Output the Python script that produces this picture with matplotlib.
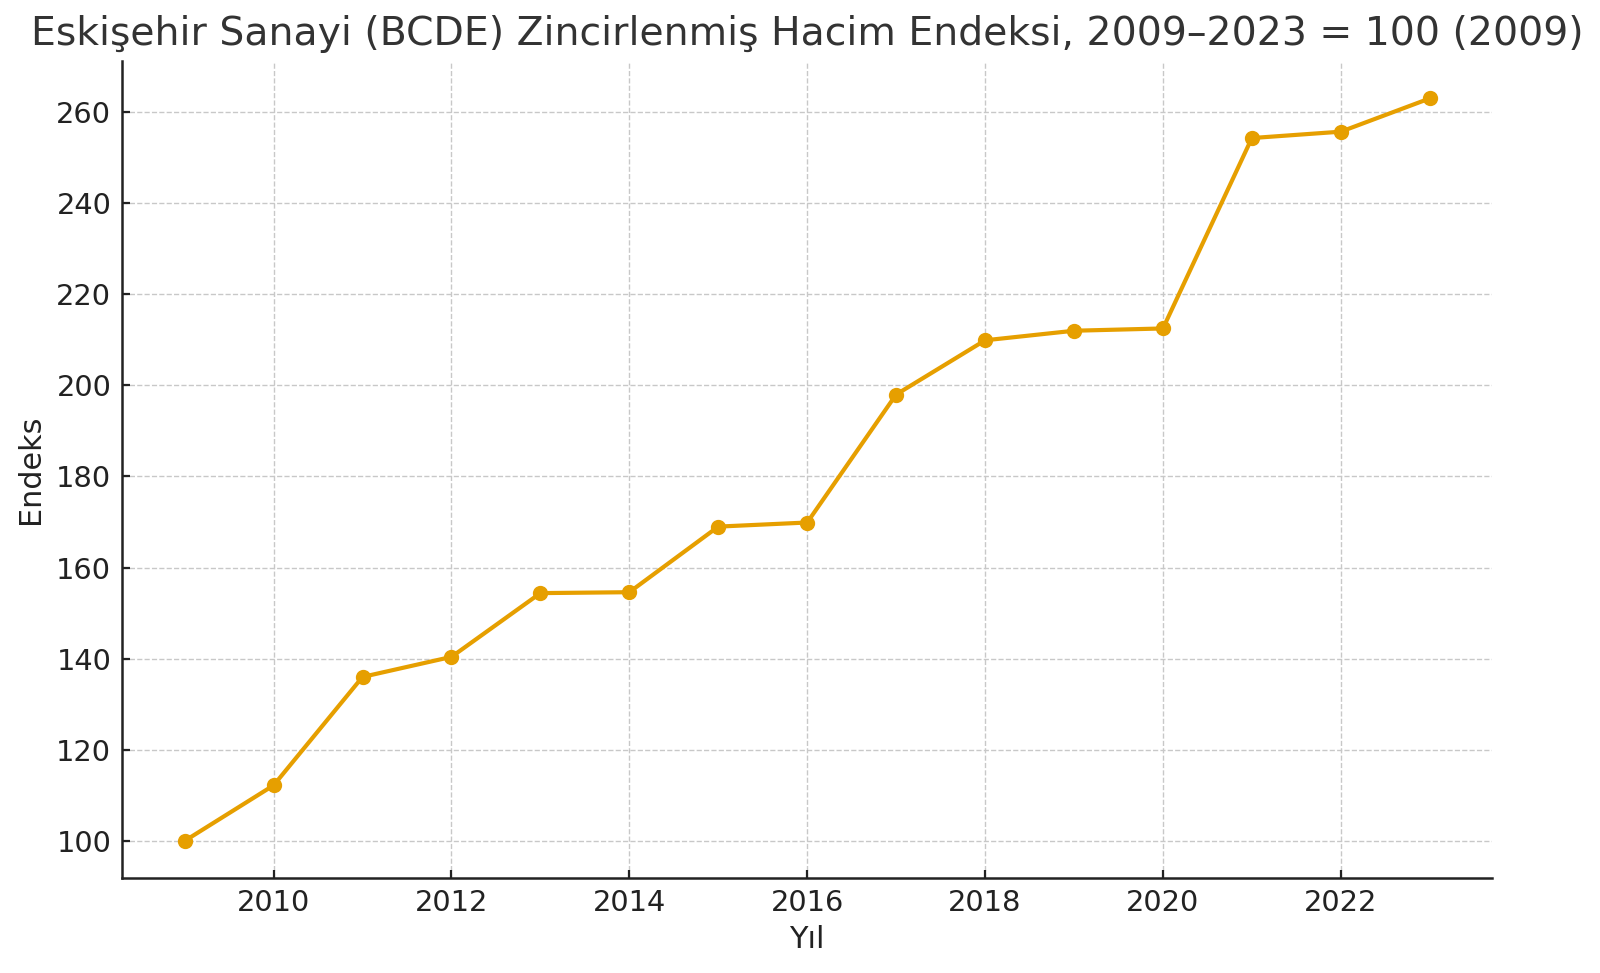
import matplotlib
matplotlib.use("Agg")
import matplotlib.pyplot as plt

years = [2009, 2010, 2011, 2012, 2013, 2014, 2015, 2016, 2017, 2018, 2019, 2020, 2021, 2022, 2023]
index_values = [100.0, 112.2, 136.0, 140.4, 154.4, 154.6, 169.0, 169.9, 198.0, 209.9, 212.0, 212.5, 254.3, 255.7, 263.0]
y_ticks = [100, 120, 140, 160, 180, 200, 220, 240, 260]
x_ticks = [2010, 2012, 2014, 2016, 2018, 2020, 2022]

plt.rcParams['font.family'] = ['DejaVu Sans']

fig, ax = plt.subplots(figsize=(8, 4.865), dpi=200)
fig.subplots_adjust(left=0.0765, right=0.9325, top=0.937, bottom=0.0976)

ax.plot(years, index_values, color="#E69F00", linewidth=1.5, marker="o", markersize=4.5)

ax.set_xticks(x_ticks)
ax.set_yticks(y_ticks)
ax.grid(True, linestyle="--", linewidth=0.5, color="#c8c8c8")
ax.set_axisbelow(True)
for side in ["top", "right"]:
    ax.spines[side].set_visible(False)
for side in ["left", "bottom"]:
    ax.spines[side].set_linewidth(0.9)
    ax.spines[side].set_color("#222222")
ax.tick_params(labelsize=10.4, colors="#222222", width=0.8, direction="in", length=3, pad=4)

ax.set_title("Eskişehir Sanayi (BCDE) Zincirlenmiş Hacim Endeksi, 2009–2023 = 100 (2009)",
             fontsize=14.2, color="#333333")
ax.set_xlabel("Yıl", fontsize=10.9, color="#222222", labelpad=3)
ax.set_ylabel("Endeks", fontsize=10.9, color="#222222", labelpad=4)

fig.savefig("out.png", dpi=200)
